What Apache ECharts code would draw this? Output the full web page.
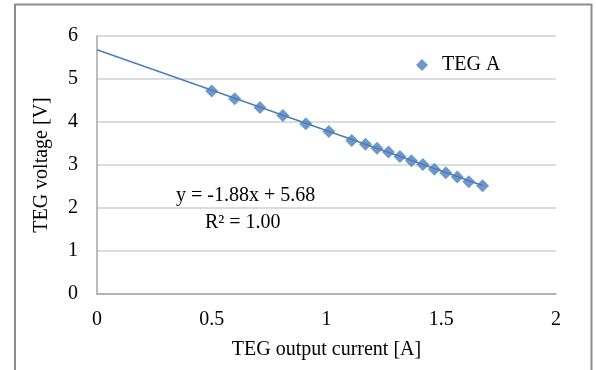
<!DOCTYPE html>
<html>
<head>
<meta charset="utf-8">
<script src="https://cdn.jsdelivr.net/npm/echarts@6/dist/echarts.min.js"></script>
<style>
  html, body { margin: 0; padding: 0; background: #fff; }
  #chart { width: 596px; height: 370px; }
</style>
</head>
<body>
<div id="chart"></div>
<script>
const current = [0.50, 0.60, 0.71, 0.81, 0.91, 1.01, 1.11, 1.17, 1.22, 1.27, 1.32, 1.37, 1.42, 1.47, 1.52, 1.57, 1.62, 1.68];
const voltage = [4.72, 4.54, 4.34, 4.15, 3.96, 3.78, 3.57, 3.48, 3.39, 3.30, 3.20, 3.10, 3.01, 2.90, 2.82, 2.72, 2.61, 2.52];

// linear fit shown on the chart
const slope = -1.88;
const intercept = 5.68;
const fitRange = [0, 1.68];

const seriesName = 'TEG A';
const xName = 'TEG output current [A]';
const yName = 'TEG voltage [V]';

const blue = '#4a7ebb';
const font = 'Liberation Serif';

const points = current.map((x, i) => [x, voltage[i]]);
const trend = fitRange.map(x => [x, slope * x + intercept]);

const chart = echarts.init(document.getElementById('chart'), null, { renderer: 'canvas' });

chart.setOption({
  animation: false,
  textStyle: { fontFamily: font },
  grid: { left: 97, top: 36, right: 40, bottom: 76 },
  legend: {
    data: [{ name: seriesName, icon: 'diamond' }],
    left: 411, top: 50,
    itemWidth: 12, itemHeight: 12, itemGap: 14,
    textStyle: { fontFamily: font, fontSize: 20, color: '#000', padding: [0, 0, 0, 9] }
  },
  xAxis: {
    type: 'value', min: 0, max: 2, interval: 0.5,
    name: xName, nameLocation: 'middle', nameGap: 46,
    nameTextStyle: { fontFamily: font, fontSize: 20, color: '#000' },
    axisLine: { show: true, lineStyle: { color: '#a6a6a6', width: 1.5 } },
    axisTick: { show: false },
    splitLine: { show: false },
    axisLabel: { fontFamily: font, fontSize: 20, color: '#000', margin: 16 }
  },
  yAxis: {
    type: 'value', min: 0, max: 6, interval: 1,
    name: yName, nameLocation: 'middle', nameGap: 45,
    nameTextStyle: { fontFamily: font, fontSize: 20, color: '#000' },
    axisLine: { show: true, lineStyle: { color: '#a6a6a6', width: 1.5 } },
    axisTick: { show: false },
    splitLine: { show: true, lineStyle: { color: '#d0d0d0', width: 1.5 } },
    axisLabel: { fontFamily: font, fontSize: 20, color: '#000', margin: 19 }
  },
  graphic: [
    {
      type: 'polyline',
      shape: { points: [[15, 372], [15, 4.5], [591.5, 4.5], [591.5, 372]] },
      style: { stroke: '#8c8c8c', lineWidth: 2, fill: null },
      silent: true
    },
    {
      type: 'text', left: 176, top: 186,
      style: { text: 'y = -1.88x + 5.68', font: '20px "Liberation Serif"', fill: '#000' }
    },
    {
      type: 'text', left: 205, top: 213,
      style: { text: 'R² = 1.00', font: '20px "Liberation Serif"', fill: '#000' }
    }
  ],
  series: [
    {
      name: 'fit', type: 'line', data: trend,
      symbol: 'none', lineStyle: { color: blue, width: 1.5 },
      z: 1
    },
    {
      name: seriesName, type: 'scatter', data: points,
      symbol: 'diamond', symbolSize: 13,
      itemStyle: { color: blue },
      z: 2
    }
  ]
});
</script>
</body>
</html>
